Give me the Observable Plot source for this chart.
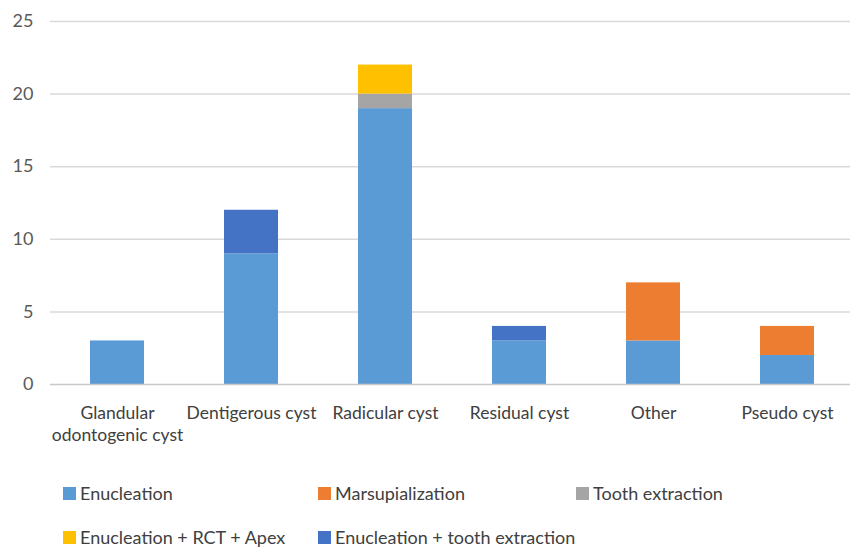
<!DOCTYPE html>
<html><head><meta charset="utf-8">
<script src="https://cdn.jsdelivr.net/npm/d3@7"></script>
<script src="https://cdn.jsdelivr.net/npm/@observablehq/plot@0.6"></script>
<style>
body{margin:0;background:#fff;font-family:Lato,"Open Sans",sans-serif;}
#wrap{position:relative;width:850px;height:549px;overflow:hidden;}
.leg{position:absolute;display:flex;align-items:center;font-size:18px;line-height:20px;color:#404040;white-space:nowrap;}
.sw{width:13px;height:13px;margin-right:4px;}
</style></head>
<body><div id="wrap"></div>
<script>
const categories = ["Glandular\nodontogenic cyst","Dentigerous cyst","Radicular cyst","Residual cyst","Other","Pseudo cyst"];
const seriesNames = ["Enucleation","Marsupialization","Tooth extraction","Enucleation + RCT + Apex","Enucleation + tooth extraction"];
const colors = ["#5B9BD5","#ED7D31","#A5A5A5","#FFC000","#4472C4"];
const enucleation      = [3, 9, 19, 3, 3, 2];
const marsupialization = [0, 0, 0, 0, 4, 2];
const toothExtraction  = [0, 0, 1, 0, 0, 0];
const enucRctApex      = [0, 0, 2, 0, 0, 0];
const enucTooth        = [0, 3, 0, 1, 0, 0];
const yTicks = [0, 5, 10, 15, 20, 25];

const seriesValues = [enucleation, marsupialization, toothExtraction, enucRctApex, enucTooth];
const rows = [];
seriesNames.forEach((s, i) => categories.forEach((c, j) => {
  if (seriesValues[i][j] > 0) rows.push({category: c, series: s, value: seriesValues[i][j]});
}));

const chart = Plot.plot({
  width: 850, height: 460,
  marginLeft: 50, marginRight: 0, marginTop: 21, marginBottom: 76,
  style: {fontFamily: "Lato, 'Open Sans', sans-serif", background: "#fff"},
  x: {domain: categories, range: [50, 854], paddingInner: 0.6, paddingOuter: 0.3, axis: null},
  y: {domain: [0, 25], axis: null},
  color: {domain: seriesNames, range: colors},
  marks: [
    Plot.ruleY(yTicks.filter(d => d > 0), {stroke: "#d9d9d9", strokeWidth: 1.5}),
    Plot.barY(rows, Plot.stackY({order: seriesNames}, {x: "category", y: "value", fill: "series"})),
    Plot.ruleY([0], {stroke: "#c8c8c8", strokeWidth: 1.5}),
    Plot.axisY({ticks: yTicks, tickSize: 0, tickPadding: 17, fontSize: 18, color: "#595959", label: null}),
    Plot.text(categories, {x: d => d, y: () => 0, text: d => d, dy: 19, lineAnchor: "top", lineHeight: 1.25, fontSize: 17.5, fill: "#404040"})
  ]
});
const wrap = document.getElementById("wrap");
wrap.appendChild(chart);

const legendPos = [[63, 493], [318, 493], [576, 493], [63, 537], [318, 537]];
seriesNames.forEach((s, i) => {
  const d = document.createElement("div");
  d.className = "leg";
  d.style.left = legendPos[i][0] + "px";
  d.style.top = (legendPos[i][1] - 10) + "px";
  d.style.height = "20px";
  d.innerHTML = `<span class="sw" style="background:${colors[i]}"></span><span>${s}</span>`;
  wrap.appendChild(d);
});
</script></body></html>
